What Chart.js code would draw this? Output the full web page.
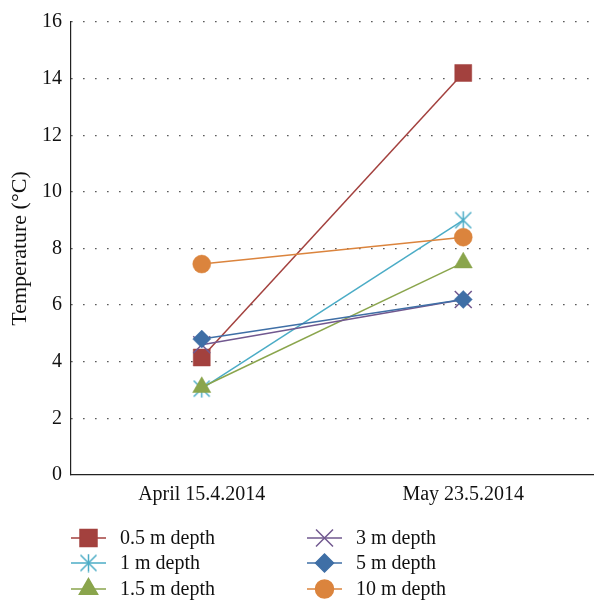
<!DOCTYPE html>
<html>
<head>
<meta charset="utf-8">
<script src="https://cdn.jsdelivr.net/npm/chart.js@4"></script>
<style>
html,body{margin:0;padding:0;background:#fff;overflow:hidden;}
#wrap{width:594px;height:604px;}
</style>
</head>
<body>
<div id="wrap"><canvas id="chart" width="594" height="604"></canvas></div>
<script>
// ================= DATA =================
let categories = ['April 15.4.2014', 'May 23.5.2014'];
let yTicks = [0, 2, 4, 6, 8, 10, 12, 14, 16];

let depth05 = [4.15, 14.2];
let depth1 = [3.05, 9.0];
let depth15 = [3.1, 7.5];
let depth3 = [4.6, 6.2];
let depth5 = [4.8, 6.2];
let depth10 = [7.45, 8.4];

let seriesNames = ['0.5 m depth', '1 m depth', '1.5 m depth', '3 m depth', '5 m depth', '10 m depth'];
let seriesData = [depth05, depth1, depth15, depth3, depth5, depth10];
let colors = ['#a3413e', '#4bacc6', '#8aa54c', '#71588f', '#3f6fa6', '#db843d'];
let radii = [12, 10, 10.5, 12, 9, 9];

let FONT = '"Liberation Serif", "DejaVu Serif", serif';

// dấu sao kiểu Excel: chữ X + gạch đứng
function makeStar(color){
  let c = document.createElement('canvas');
  c.width = 19; c.height = 19;
  let g = c.getContext('2d');
  g.strokeStyle = color;
  g.lineWidth = 1.5;
  g.beginPath();
  g.moveTo(1.5, 1.5); g.lineTo(17.5, 17.5);
  g.moveTo(17.5, 1.5); g.lineTo(1.5, 17.5);
  g.moveTo(9.5, 0.5); g.lineTo(9.5, 18.5);
  g.stroke();
  return c;
}

let markers = ['rect', makeStar(colors[1]), 'triangle', 'crossRot', 'rectRot', 'circle'];
let isLine = [false, true, false, true, false, false];

// datasets
let datasets = seriesData.map((d, i) => {
  return {
    label: seriesNames[i],
    data: d,
    borderColor: colors[i],
    backgroundColor: colors[i],
    borderWidth: 1.5,
    pointStyle: markers[i],
    pointRadius: radii[i],
    pointHoverRadius: radii[i],
    pointBorderWidth: isLine[i] ? 1.5 : 0.5,
    pointBackgroundColor: colors[i],
    pointBorderColor: colors[i],
    order: 6 - i,
    tension: 0
  };
});

// ================= LEGEND (2 cột x 3 hàng) =================
let legendPlugin = {
  id: 'twoColLegend',
  afterDraw(chart){
    let ctx = chart.ctx;
    let colX = [71, 307];
    let rowY = [538, 563, 589];
    ctx.save();
    ctx.font = '20px ' + FONT;
    ctx.textBaseline = 'middle';
    ctx.textAlign = 'left';
    seriesNames.forEach((name, i) => {
      let x = colX[Math.floor(i / 3)];
      let y = rowY[i % 3];
      ctx.strokeStyle = colors[i];
      ctx.fillStyle = colors[i];
      ctx.lineWidth = 1.5;
      ctx.beginPath();
      ctx.moveTo(x, y);
      ctx.lineTo(x + 35, y);
      ctx.stroke();
      Chart.helpers.drawPoint(ctx, {
        pointStyle: markers[i],
        radius: radii[i],
        rotation: 0,
        borderWidth: isLine[i] ? 1.5 : 0.5
      }, x + 17.5, y);
      ctx.fillStyle = '#111';
      ctx.fillText(name, x + 49, y + 1);
    });
    ctx.restore();
  }
};

new Chart(document.getElementById('chart').getContext('2d'), {
  type: 'line',
  data: { labels: categories, datasets: datasets },
  plugins: [legendPlugin],
  options: {
    responsive: false,
    animation: false,
    layout: { autoPadding: false, padding: { left: 0, right: 0, top: 22, bottom: 84 } },
    plugins: {
      legend: { display: false },
      tooltip: { enabled: false }
    },
    scales: {
      x: {
        offset: true,
        grid: { display: false, drawTicks: false },
        border: { display: true, color: '#222', width: 1.2 },
        ticks: { color: '#111', font: { family: FONT, size: 20 }, padding: 8 },
        afterFit(scale){
          scale.height = 45;
          // trục x chạy sát mép phải
          scale.paddingLeft = 0;
          scale.paddingRight = 0;
        }
      },
      y: {
        min: 0,
        max: 16,
        afterBuildTicks(scale){ scale.ticks = yTicks.map(v => ({ value: v })); },
        grid: {
          drawTicks: false,
          color: c => c.tick.value === 0 ? 'rgba(0,0,0,0)' : '#333',
          lineWidth: 1.3
        },
        // lưới chấm
        border: { display: true, color: '#222', width: 1.2, dash: [1.3, 10.7] },
        ticks: { color: '#111', font: { family: FONT, size: 20 }, padding: 9 },
        title: {
          display: true,
          text: 'Temperature (°C)',
          color: '#111',
          font: { family: FONT, size: 22 },
          padding: { top: 7, bottom: 0 }
        },
        afterFit(scale){ scale.width = 71; }
      }
    }
  }
});
</script>
</body>
</html>
